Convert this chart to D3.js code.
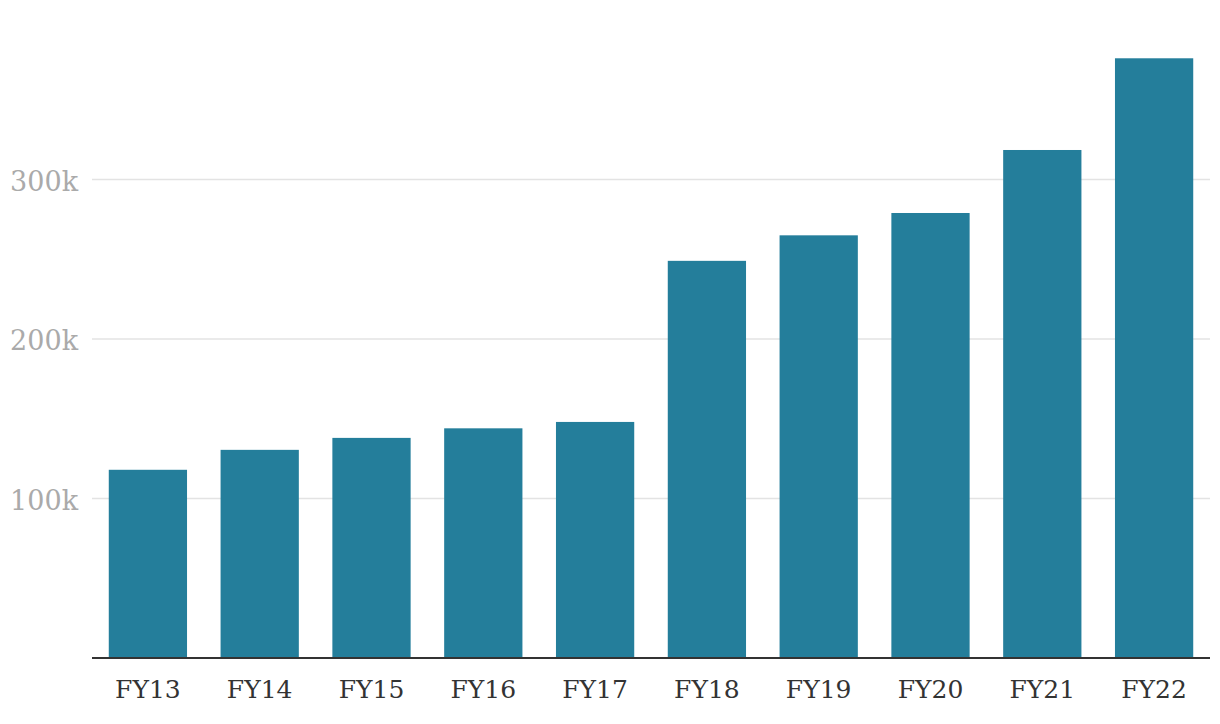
<!DOCTYPE html>
<html>
<head>
<meta charset="utf-8">
<script src="https://cdn.jsdelivr.net/npm/d3@7"></script>
<style>
  body { margin: 0; background: #fff; }
  svg { display: block; }
  text { font-family: "DejaVu Serif", "Liberation Serif", serif; }
</style>
</head>
<body>
<svg id="chart" width="1220" height="724"></svg>
<script>
const years = ["FY13", "FY14", "FY15", "FY16", "FY17", "FY18", "FY19", "FY20", "FY21", "FY22"];
const values = [118000, 130500, 138000, 144000, 148000, 249000, 265000, 279000, 318500, 376000];
const yTicks = [100000, 200000, 300000];

function drawChart() {
    const svg = d3.select("#chart");
    const left = 92, right = 1210, bottom = 658;

    const x = d3.scaleBand().domain(years).range([left, right])
        .paddingInner(0.3).paddingOuter(0.15);
    const y = d3.scaleLinear().domain([0, 400000]).range([bottom, bottom - 4 * 159.5]);

    // grid lines + labels
    const grid = svg.append("g").selectAll("g").data(yTicks).enter().append("g");
    grid.append("line")
        .attr("x1", left).attr("x2", right)
        .attr("y1", d => y(d)).attr("y2", d => y(d))
        .attr("stroke", "#e3e3e3").attr("stroke-width", 1.5);
    grid.append("text")
        .attr("x", 78).attr("y", d => y(d) + 11)
        .attr("text-anchor", "end")
        .attr("font-size", 27)
        .attr("fill", "#aaaaaa")
        .text(d => d3.format("~s")(d));

    svg.append("g").selectAll("rect").data(values).enter().append("rect")
        .attr("x", (d, i) => x(years[i]))
        .attr("width", x.bandwidth())
        .attr("y", d => y(d))
        .attr("height", d => y(0) - y(d))
        .attr("fill", "#247e9b");

    svg.append("line")
        .attr("x1", left).attr("x2", right)
        .attr("y1", bottom).attr("y2", bottom)
        .attr("stroke", "#333").attr("stroke-width", 2);

    svg.append("g").selectAll("text").data(years).enter().append("text")
        .attr("x", d => x(d) + x.bandwidth() / 2)
        .attr("y", 698)
        .attr("text-anchor", "middle")
        .attr("font-size", 25)
        .attr("fill", "#333")
        .text(d => d);
}

drawChart();
</script>
</body>
</html>
